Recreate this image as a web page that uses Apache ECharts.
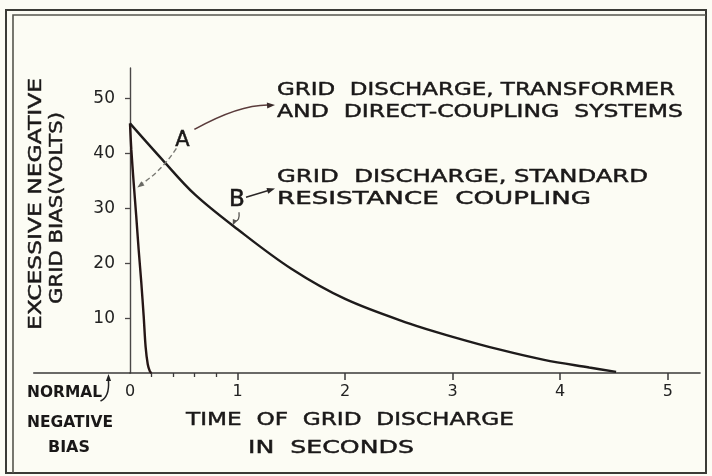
<!DOCTYPE html>
<html>
<head>
<meta charset="utf-8">
<script src="https://cdn.jsdelivr.net/npm/echarts@6/dist/echarts.min.js"></script>
<style>
  html, body { margin: 0; padding: 0; background: #fcfcf4; }
  #chart { width: 712px; height: 476px; }
</style>
</head>
<body>
<div id="chart"></div>
<script>
// Grid discharge curves, [seconds, volts of excess negative bias]
const curveA = [
  [0, 45.5], [0.012, 40.8], [0.034, 34.7], [0.058, 28.6], [0.08, 22.6],
  [0.105, 16.5], [0.127, 10.4], [0.145, 4.8], [0.165, 1.6], [0.185, 0.3], [0.2, 0]
];
const curveB = [
  [0, 45.5], [0.3, 38.9], [0.6, 32.6], [1.0, 26.2], [1.5, 19.0], [2.0, 13.5],
  [2.6, 9.0], [3.0, 6.6], [3.45, 4.2], [3.85, 2.4], [4.27, 1.0], [4.52, 0.2]
];

// Axis ticks and labels
const xLabelValues = [0, 1, 2, 3, 4, 5];
const xTickValues = [1, 2, 3, 4, 5];
const xMinorTickValues = [0.2, 0.4, 0.6, 0.8];
const yTickValues = [10, 20, 30, 40, 50];
const normalBiasAt = -0.2;
const timeAxisStart = -0.9;

// Lettering
const yNameLines = ['EXCESSIVE NEGATIVE', 'GRID BIAS(VOLTS)'];
const xNameLines = ['TIME  OF  GRID  DISCHARGE', 'IN  SECONDS'];
const normalBiasLines = ['NORMAL', 'NEGATIVE', 'BIAS'];
const noteA = ['GRID  DISCHARGE, TRANSFORMER', 'AND  DIRECT-COUPLING  SYSTEMS'];
const noteB = ['GRID  DISCHARGE, STANDARD', 'RESISTANCE  COUPLING'];

const INK = '#1e1b1b';
const AXIS = '#3a3838';
const FONT = 'DejaVu Sans';

const chart = echarts.init(document.getElementById('chart'), null, { renderer: 'canvas' });

const option = {
  backgroundColor: '#fcfcf4',
  animation: false,
  grid: { left: 130, right: 12, top: 68, bottom: 103, containLabel: false },
  xAxis: [
    {
      type: 'value', min: 0, max: 5.3,
      axisLine: { onZero: true, lineStyle: { color: AXIS, width: 1.6 } },
      axisTick: { show: true, length: 7, customValues: xTickValues, lineStyle: { color: AXIS, width: 1.5 } },
      axisLabel: { customValues: xLabelValues, margin: 11, color: '#222', fontFamily: FONT, fontSize: 16 },
      splitLine: { show: false }
    },
    {
      type: 'value', min: 0, max: 5.3, position: 'bottom',
      axisLine: { show: false },
      axisTick: { show: true, length: 4, customValues: xMinorTickValues, lineStyle: { color: AXIS, width: 1.3 } },
      axisLabel: { show: false },
      splitLine: { show: false }
    }
  ],
  yAxis: {
    type: 'value', min: 0, max: 55.6,
    axisLine: { show: true, onZero: false, lineStyle: { color: '#4a4747', width: 1.4 } },
    axisTick: { show: true, length: 5, customValues: yTickValues, lineStyle: { color: '#4a4747', width: 1.3 } },
    axisLabel: { customValues: yTickValues, margin: 15, color: '#222', fontFamily: FONT, fontSize: 17 },
    splitLine: { show: false }
  },
  series: [
    {
      name: 'A', type: 'line', data: curveA, showSymbol: false, smooth: 0.3,
      lineStyle: { color: '#261616', width: 2.4 }
    },
    {
      name: 'B', type: 'line', data: curveB, showSymbol: false, smooth: 0.35,
      lineStyle: { color: INK, width: 2.4 }
    }
  ]
};
chart.setOption(option);

// ---- lettering and arrows ----
const measureCtx = document.createElement('canvas').getContext('2d');
function textWidth(str, font) { measureCtx.font = font; return measureCtx.measureText(str).width; }

// A text element stretched horizontally to span a given width
function letter(str, x, y, width, size, opts) {
  opts = opts || {};
  const weight = opts.weight || 'normal';
  const font = weight + ' ' + size + 'px "' + FONT + '"';
  const sx = width / textWidth(str, font);
  return {
    type: 'text', x: x, y: y, scaleX: sx, rotation: opts.rotation || 0, z: 10,
    style: {
      text: str, fontFamily: FONT, fontSize: size, fontWeight: weight,
      fill: '#1a1818', stroke: '#1a1818', lineWidth: opts.heavy === false ? 0 : 0.45,
      align: opts.align || 'left', verticalAlign: 'middle'
    }
  };
}

function px(t, v) { return chart.convertToPixel({ gridIndex: 0 }, [t, v]); }

function arrowHead(tip, from, len, halfW, color) {
  const dx = tip[0] - from[0], dy = tip[1] - from[1];
  const d = Math.hypot(dx, dy) || 1;
  const ux = dx / d, uy = dy / d;
  const bx = tip[0] - ux * len, by = tip[1] - uy * len;
  return {
    type: 'polygon', z: 11,
    shape: { points: [tip, [bx - uy * halfW, by + ux * halfW], [bx + uy * halfW, by - ux * halfW]] },
    style: { fill: color }
  };
}

function curve(p0, c, p1, color, width, dash) {
  return {
    type: 'bezierCurve', z: 11,
    shape: { x1: p0[0], y1: p0[1], cpx1: c[0], cpy1: c[1], x2: p1[0], y2: p1[1] },
    style: { stroke: color, lineWidth: width, fill: null, lineDash: dash || null }
  };
}

const g = [];

// frame
g.push({ type: 'rect', shape: { x: 6, y: 10, width: 700, height: 463 }, style: { fill: null, stroke: '#3b3b36', lineWidth: 2 }, z: 1 });
g.push({ type: 'polyline', shape: { points: [[13, 473], [13, 15], [706, 15]] }, style: { stroke: '#55554e', lineWidth: 1.6, fill: null }, z: 1 });

// time axis continued left of the origin, down to the normal-bias level
const axStart = px(timeAxisStart, 0);
const axZero = px(0, 0);
g.push({ type: 'line', z: 5, shape: { x1: axStart[0], y1: axZero[1], x2: axZero[0], y2: axZero[1] }, style: { stroke: AXIS, lineWidth: 1.6 } });

// y-axis name
g.push(letter(yNameLines[0], 37, 204, 252, 17, { rotation: Math.PI / 2, align: 'center' }));
g.push(letter(yNameLines[1], 58, 208, 192, 17, { rotation: Math.PI / 2, align: 'center' }));

// x-axis name
g.push(letter(xNameLines[0], 186, 420, 328, 18));
g.push(letter(xNameLines[1], 248, 448, 166, 18));

// normal negative bias marker
g.push(letter(normalBiasLines[0], 27, 393, 75, 15, { weight: 'bold', heavy: false }));
g.push(letter(normalBiasLines[1], 27, 423, 86, 15, { weight: 'bold', heavy: false }));
g.push(letter(normalBiasLines[2], 48, 448, 42, 15, { weight: 'bold', heavy: false }));
const nb = px(normalBiasAt, 0);
g.push(curve([nb[0] - 8, nb[1] + 28], [nb[0] + 1, nb[1] + 24], [nb[0], nb[1] + 8], '#222', 1.5));
g.push(arrowHead([nb[0], nb[1] + 1], [nb[0], nb[1] + 9], 7, 2.6, '#222'));

// notes
g.push(letter(noteA[0], 277, 90, 398, 18));
g.push(letter(noteA[1], 277, 112, 406, 18));
g.push(letter(noteB[0], 277, 177, 371, 18));
g.push(letter(noteB[1], 277, 199, 314, 18));

// curve labels
const posA = px(0.487, 42.4);
const posB = px(0.995, 31.5);
g.push({ type: 'text', x: posA[0], y: posA[1], z: 10, style: { text: 'A', fontFamily: FONT, fontSize: 21, fill: '#1a1818', stroke: '#1a1818', lineWidth: 0.5, align: 'center', verticalAlign: 'middle' } });
g.push({ type: 'text', x: posB[0], y: posB[1], z: 10, style: { text: 'B', fontFamily: FONT, fontSize: 23, fill: '#1a1818', stroke: '#1a1818', lineWidth: 0.6, align: 'center', verticalAlign: 'middle' } });

// A: dashed pointer to the fast curve
const aTip = px(0.068, 33.8);
const aStart = [posA[0] - 6, posA[1] + 8];
const aCtl = [posA[0] - 22, posA[1] + 32];
g.push(curve(aStart, aCtl, [aTip[0] + 3, aTip[1] - 3], '#7a7a74', 1.4, [5, 3]));
g.push(arrowHead(aTip, [aTip[0] + 8, aTip[1] - 6], 7, 2.6, '#6a6a64'));

// A: pointer to its note
const aNote = [275, 105];
const aFrom = [posA[0] + 12, posA[1] - 11];
g.push(curve(aFrom, [240, 104], [aNote[0] - 5, aNote[1]], '#5a3b3b', 1.6));
g.push(arrowHead(aNote, [aNote[0] - 8, aNote[1] + 0.5], 8, 3, '#3a2a2a'));

// B: pointer to its note
const bNote = [275, 188.5];
const bFrom = [posB[0] + 9, posB[1] - 3];
g.push({ type: 'line', z: 11, shape: { x1: bFrom[0], y1: bFrom[1], x2: bNote[0] - 5, y2: bNote[1] + 1.5 }, style: { stroke: '#2a2626', lineWidth: 1.5 } });
g.push(arrowHead(bNote, bFrom, 8, 3, '#2a2626'));

// B: pointer to its curve
const bTip = px(0.955, 26.9);
const bFrom2 = [posB[0] + 2, posB[1] + 12];
g.push(curve(bFrom2, [bFrom2[0] + 1, bFrom2[1] + 9], [bTip[0] + 2, bTip[1] - 4], '#55524f', 1.3));
g.push(arrowHead(bTip, [bTip[0] + 3, bTip[1] - 7], 6, 2.4, '#55524f'));

chart.setOption({ graphic: g });
</script>
</body>
</html>
